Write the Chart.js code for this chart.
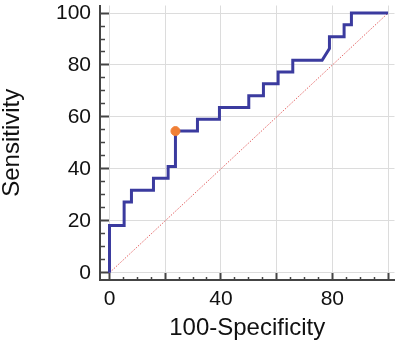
<!DOCTYPE html>
<html>
<head>
<meta charset="utf-8">
<script src="https://cdn.jsdelivr.net/npm/chart.js@4.4.1/dist/chart.umd.min.js"></script>
<style>
  html, body { margin: 0; padding: 0; background: #fff; }
  #roc { display: block; }
</style>
</head>
<body>
<canvas id="roc" width="400" height="346"></canvas>
<script>
// ROC curve corners: x = 100-Specificity, y = Sensitivity
const fpr = [0, 0, 5.26, 5.26, 7.89, 7.89, 15.79, 15.79, 21.05, 21.05, 23.68, 23.68, 31.58, 31.58, 39.47, 39.47,
  50, 50, 55.26, 55.26, 60.53, 60.53, 65.79, 65.79, 76.32, 78.95, 78.95, 84.21, 84.21, 86.84, 86.84, 100];
const tpr = [0, 18.18, 18.18, 27.27, 27.27, 31.82, 31.82, 36.36, 36.36, 40.91, 40.91, 54.55, 54.55, 59.09, 59.09, 63.64,
  63.64, 68.18, 68.18, 72.73, 72.73, 77.27, 77.27, 81.82, 81.82, 86.36, 90.91, 90.91, 95.45, 95.45, 100, 100];

// optimal cut-off point
const cutX = [23.68];
const cutY = [54.55];

// chance line
const refX = [0, 100];
const refY = [0, 100];

// ticks
const tickVals = [0, 5, 10, 15, 20, 25, 30, 35, 40, 45, 50, 55, 60, 65, 70, 75, 80, 85, 90, 95, 100];
const majorVals = [0, 20, 40, 60, 80, 100];
const xLabels = [0, 40, 80];
const yLabels = [0, 20, 40, 60, 80, 100];

const toPoints = (xs, ys) => xs.map((x, i) => ({ x: x, y: ys[i] }));
const isMajor = v => majorVals.includes(v);

const tickFont = { family: "'Liberation Sans', Arial, sans-serif", size: 21 };
const titleFont = { family: "'Liberation Sans', Arial, sans-serif", size: 24, lineHeight: 1 };
const axisColor = '#444';

const setTicks = scale => {
  scale.ticks = tickVals.map(v => ({ value: v }));
};

new Chart(document.getElementById('roc'), {
  type: 'line',
  data: {
    datasets: [
      {
        data: toPoints(cutX, cutY),
        showLine: false,
        pointRadius: 4.5,
        pointBackgroundColor: '#f07f35',
        pointBorderColor: '#f07f35',
        order: 0
      },
      {
        data: toPoints(fpr, tpr),
        borderColor: '#3b3b9f',
        borderWidth: 3,
        pointRadius: 0,
        fill: false,
        tension: 0,
        order: 1
      },
      {
        data: toPoints(refX, refY),
        borderColor: 'rgba(225, 85, 85, 0.9)',
        borderWidth: 1,
        borderDash: [1.5, 1.5],
        pointRadius: 0,
        order: 2
      }
    ]
  },
  options: {
    responsive: false,
    animation: false,
    layout: { padding: { top: 2, right: 3, left: 0, bottom: 0 } },
    plugins: {
      legend: { display: false },
      tooltip: { enabled: false }
    },
    scales: {
      x: {
        type: 'linear',
        min: -3.4,
        max: 102.3,
        afterBuildTicks: setTicks,
        afterFit: scale => {
          scale.height = 66;
          scale.paddingLeft = 0;
          scale.paddingRight = 0;
        },
        border: { display: true, color: axisColor, width: 2 },
        grid: {
          color: ctx => isMajor(ctx.tick.value) ? '#dcdcdc' : 'rgba(0,0,0,0)',
          lineWidth: 1,
          tickLength: -7,
          tickColor: axisColor,
          tickWidth: ctx => isMajor(ctx.tick.value) ? 2 : 1.5,
          tickBorderDash: ctx => isMajor(ctx.tick.value) ? [] : [4, 20]
        },
        ticks: {
          autoSkip: false,
          maxRotation: 0,
          padding: 14,
          color: '#111',
          font: tickFont,
          callback: v => xLabels.includes(v) ? String(v) : ''
        },
        title: {
          display: true,
          text: '100-Specificity',
          color: '#111',
          font: titleFont,
          padding: { top: 0, bottom: 6 }
        }
      },
      y: {
        type: 'linear',
        min: -2.78,
        max: 102.9,
        afterBuildTicks: setTicks,
        afterFit: scale => {
          scale.width = 100;
          scale.paddingTop = 0;
          scale.paddingBottom = 0;
        },
        border: { display: true, color: axisColor, width: 2 },
        grid: {
          color: ctx => isMajor(ctx.tick.value) ? '#dcdcdc' : 'rgba(0,0,0,0)',
          lineWidth: 1,
          tickLength: -9,
          tickColor: axisColor,
          tickWidth: ctx => isMajor(ctx.tick.value) ? 2 : 1.5,
          tickBorderDash: ctx => isMajor(ctx.tick.value) ? [] : [0, 4, 6, 20]
        },
        ticks: {
          autoSkip: false,
          padding: 18,
          color: '#111',
          font: tickFont,
          callback: v => yLabels.includes(v) ? String(v) : ''
        },
        title: {
          display: true,
          text: 'Sensitivity',
          color: '#111',
          font: titleFont,
          padding: { top: 0, bottom: 0 }
        }
      }
    }
  }
});
</script>
</body>
</html>
